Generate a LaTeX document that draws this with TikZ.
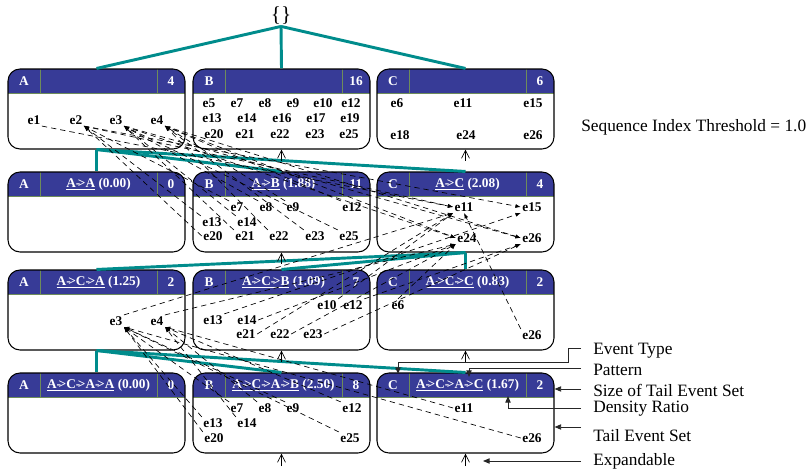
\documentclass[tikz,border=0pt]{standalone}
\usepackage{fontspec}
\setmainfont{Liberation Serif}
\usetikzlibrary{arrows.meta}
\definecolor{hdrblue}{RGB}{55,59,151}
\definecolor{treeteal}{RGB}{0,140,140}
\definecolor{divgreen}{RGB}{110,140,90}
\tikzset{
  boxframe/.style={draw, rounded corners=9pt, minimum width=132.75pt, minimum height=60pt, inner sep=0pt, line width=0.8pt},
  hdrtext/.style={text=white, font=\fontsize{10}{12}\selectfont\bfseries, inner sep=0pt},
  ev/.style={font=\fontsize{10}{12}\selectfont\bfseries, inner sep=1pt},
  tree/.style={treeteal, line width=2.2pt},
  dep/.style={dash pattern=on 4pt off 3pt, line width=0.5pt, -{Latex[length=4pt,width=3pt]}},
  leg/.style={line width=0.7pt, draw=black!85, -{Triangle[length=5pt,width=4pt]}},
  expand/.style={line width=0.5pt, -{Straight Barb[length=6pt,width=6pt]}},
  legtext/.style={font=\fontsize{13}{15}\selectfont, anchor=west, inner sep=0pt},
  divline/.style={divgreen, line width=0.6pt}
}
\newcommand\pbox[6]{%
  \begin{scope}
    \clip[rounded corners=9pt] (#2,#3) rectangle ++(177,80);
    \fill[white] (#2,#3) rectangle ++(177,80);
    \fill[hdrblue] (#2,#3) rectangle ++(177,24);
  \end{scope}
  \draw[divline] (#2,#3+24) -- ++(177,0);
  \draw[divline] (#2+32,#3) -- ++(0,24);
  \draw[divline] (#2+149,#3) -- ++(0,24);
  \node[boxframe] (#1) at (#2+88.5,#3+40) {};
  \node[hdrtext] (#1-t) at (#2+16,#3+12) {#4};
  \node[hdrtext] (#1-p) at (#2+90.5,#3+12) {#5};
  \node[hdrtext] (#1-n) at (#2+163,#3+12) {#6};
}
\newcommand\pat[2]{\underline{#1} (#2)}
\newcommand\ar{{-}\kern-0.18em{>}}
\begin{document}
\begin{tikzpicture}[x=0.75pt,y=-0.75pt]
\useasboundingbox (0,0) rectangle (806,473);

% root
\node[font=\fontsize{16}{18}\selectfont, inner sep=1pt] (root) at (281,16) {\{\}};

% boxes
\pbox{r1a}{8}{69}{A}{}{4}
\pbox{r1b}{193}{69}{B}{}{16}
\pbox{r1c}{377}{69}{C}{}{6}
\pbox{r2a}{8}{172}{A}{\pat{A\ar A}{0.00}}{0}
\pbox{r2b}{193}{172}{B}{\pat{A\ar B}{1.88}}{11}
\pbox{r2c}{377}{172}{C}{\pat{A\ar C}{2.08}}{4}
\pbox{r3a}{8}{270}{A}{\pat{A\ar C\ar A}{1.25}}{2}
\pbox{r3b}{193}{270}{B}{\pat{A\ar C\ar B}{1.09}}{7}
\pbox{r3c}{377}{270}{C}{\pat{A\ar C\ar C}{0.83}}{2}
\pbox{r4a}{8}{373}{A}{\pat{A\ar C\ar A\ar A}{0.00}}{0}
\pbox{r4b}{193}{373}{B}{\pat{A\ar C\ar A\ar B}{2.50}}{8}
\pbox{r4c}{377}{373}{C}{\pat{A\ar C\ar A\ar C}{1.67}}{2}

% events row 1
\node[ev] (r1a-e1) at (34,120) {e1};
\node[ev] (r1a-e2) at (76,120) {e2};
\node[ev] (r1a-e3) at (116,120) {e3};
\node[ev] (r1a-e4) at (157,120) {e4};
\node[ev] (r1b-e5) at (209,103) {e5};
\node[ev] (r1b-e7) at (237,103) {e7};
\node[ev] (r1b-e8) at (265,103) {e8};
\node[ev] (r1b-e9) at (293,103) {e9};
\node[ev] (r1b-e10) at (323,103) {e10};
\node[ev] (r1b-e12) at (351,103) {e12};
\node[ev] (r1b-e13) at (212,118) {e13};
\node[ev] (r1b-e14) at (247,118) {e14};
\node[ev] (r1b-e16) at (282,118) {e16};
\node[ev] (r1b-e17) at (316,118) {e17};
\node[ev] (r1b-e19) at (350,118) {e19};
\node[ev] (r1b-e20) at (214,134) {e20};
\node[ev] (r1b-e21) at (245,134) {e21};
\node[ev] (r1b-e22) at (280,134) {e22};
\node[ev] (r1b-e23) at (315,134) {e23};
\node[ev] (r1b-e25) at (349,134) {e25};
\node[ev] (r1c-e6) at (397,103) {e6};
\node[ev] (r1c-e11) at (463,103) {e11};
\node[ev] (r1c-e15) at (533,103) {e15};
\node[ev] (r1c-e18) at (400,135) {e18};
\node[ev] (r1c-e24) at (466,135) {e24};
\node[ev] (r1c-e26) at (533,135) {e26};

% events row 2
\node[ev] (r2b-e7) at (237,207) {e7};
\node[ev] (r2b-e8) at (266,207) {e8};
\node[ev] (r2b-e9) at (293,207) {e9};
\node[ev] (r2b-e12) at (352,207) {e12};
\node[ev] (r2b-e13) at (212,222) {e13};
\node[ev] (r2b-e14) at (247,222) {e14};
\node[ev] (r2b-e20) at (213,236) {e20};
\node[ev] (r2b-e21) at (245,236) {e21};
\node[ev] (r2b-e22) at (279,236) {e22};
\node[ev] (r2b-e23) at (315,236) {e23};
\node[ev] (r2b-e25) at (349,236) {e25};
\node[ev] (r2c-e11) at (464,207) {e11};
\node[ev] (r2c-e15) at (532,207) {e15};
\node[ev] (r2c-e24) at (467,238) {e24};
\node[ev] (r2c-e26) at (532,238) {e26};

% events row 3
\node[ev] (r3a-e3) at (116,321) {e3};
\node[ev] (r3a-e4) at (157,321) {e4};
\node[ev] (r3b-e10) at (327,305) {e10};
\node[ev] (r3b-e12) at (353,305) {e12};
\node[ev] (r3b-e13) at (213,320) {e13};
\node[ev] (r3b-e14) at (247,320) {e14};
\node[ev] (r3b-e21) at (246,334) {e21};
\node[ev] (r3b-e22) at (280,334) {e22};
\node[ev] (r3b-e23) at (313,334) {e23};
\node[ev] (r3c-e6) at (398,305) {e6};
\node[ev] (r3c-e26) at (532,335) {e26};

% events row 4
\node[ev] (r4b-e7) at (237,408) {e7};
\node[ev] (r4b-e8) at (265,408) {e8};
\node[ev] (r4b-e9) at (293,408) {e9};
\node[ev] (r4b-e12) at (352,408) {e12};
\node[ev] (r4b-e13) at (213,423) {e13};
\node[ev] (r4b-e14) at (247,423) {e14};
\node[ev] (r4b-e20) at (214,438) {e20};
\node[ev] (r4b-e25) at (350,438) {e25};
\node[ev] (r4c-e11) at (464,408) {e11};
\node[ev] (r4c-e26) at (532,438) {e26};

% tree (teal) connectors
\draw[tree] (root.south) -- (r1a.north);
\draw[tree] (root.south) -- (r1b.north);
\draw[tree] (root.south) -- (r1c.north);
\draw[tree] (r1a.south) -- (r2a.north);
\draw[tree] (r1a.south) -- (r2b.north);
\draw[tree] (r1a.south) -- (r2c.north);
\draw[tree] (r2c.south) -- (r3a.north);
\draw[tree] (r2c.south) -- (r3b.north);
\draw[tree] (r2c.south) -- (r3c.north);
\draw[tree] (r3a.south) -- (r4a.north);
\draw[tree] (r3a.south) -- (r4b.north);
\draw[tree] (r3a.south) -- (r4c.north);

% expandable marks
\coordinate (x1b) at (281.5,161); \draw[expand] (x1b) -- (r1b.south);
\coordinate (x1c) at (465.5,161); \draw[expand] (x1c) -- (r1c.south);
\coordinate (x2b) at (281.5,264); \draw[expand] (x2b) -- (r2b.south);
\coordinate (x3b) at (281.5,362); \draw[expand] (x3b) -- (r3b.south);
\coordinate (x3c) at (465.5,362); \draw[expand] (x3c) -- (r3c.south);
\coordinate (x4b) at (281.5,466); \draw[expand] (x4b) -- (r4b.south);
\coordinate (x4c) at (465.5,466); \draw[expand] (x4c) -- (r4c.south);

% dependency links: row 2 B -> row 1 A
\draw[dep] (r2b-e13.north west) -- (r1a-e2.south east);
\draw[dep] (r2b-e20.west) -- (r1a-e2.south east);
\draw[dep] (r2b-e7.north west) -- (r1a-e2.south east);
\draw[dep] (r2b-e14.north west) -- (r1a-e3.south east);
\draw[dep] (r2b-e21.north west) -- (r1a-e3.south east);
\draw[dep] (r2b-e8.north west) -- (r1a-e3.south east);
\draw[dep] (r2b-e25.north west) -- (r1a-e3.south east);
\draw[dep] (r2b-e22.north west) -- (r1a-e4.south east);
\draw[dep] (r2b-e9.north west) -- (r1a-e4.south east);
\draw[dep] (r2b-e23.north west) -- (r1a-e4.south east);
\draw[dep] (r2b-e12.north west) -- (r1a-e4.south east);
% row 1 A -> row 2 C
\draw[dep] (r1a-e1.south east) -- (r2c-e11.west);
\draw[dep] (r1a-e2.south east) -- (r2c-e11.west);
\draw[dep] (r1a-e2.south east) -- (r2c-e15.west);
\draw[dep] (r1a-e3.south east) -- (r2c-e24.west);
\draw[dep] (r1a-e4.south east) -- (r2c-e24.west);
\draw[dep] (r1a-e3.south east) -- (r2c-e26.west);
\draw[dep] (r1a-e4.south east) -- (r2c-e26.west);
% row 3 -> row 2 C
\draw[dep] (r3a-e3.north east) -- (r2c-e11.south west);
\draw[dep] (r3a-e4.north east) -- (r2c-e24.south west);
\draw[dep] (r3b-e13.north east) -- (r2c-e15.south west);
\draw[dep] (r3b-e14.east) -- (r2c-e24.south west);
\draw[dep] (r3b-e21.east) -- (r2c-e11.south west);
\draw[dep] (r3b-e22.east) -- (r2c-e24.south west);
\draw[dep] (r3b-e23.east) -- (r2c-e26.south west);
\draw[dep] (r3b-e10.north east) -- (r2c-e11.south west);
\draw[dep] (r3b-e12.north east) -- (r2c-e26.south west);
\draw[dep] (r3c-e6.north) -- (r2c-e24.south west);
\draw[dep] (r3c-e26.north west) -- (r2c-e11.south);
% row 4 -> row 3 A
\draw[dep] (r4b-e13.north west) -- (r3a-e3.south east);
\draw[dep] (r4b-e20.north west) -- (r3a-e3.south east);
\draw[dep] (r4b-e7.north west) -- (r3a-e3.south east);
\draw[dep] (r4b-e9.north west) -- (r3a-e3.south east);
\draw[dep] (r4b-e25.north west) -- (r3a-e3.south east);
\draw[dep] (r4b-e14.north west) -- (r3a-e4.south east);
\draw[dep] (r4b-e8.north west) -- (r3a-e4.south east);
\draw[dep] (r4b-e12.north west) -- (r3a-e4.south east);
\draw[dep] (r4c-e11.west) -- (r3a-e4.south east);
\draw[dep] (r4c-e26.west) -- (r3a-e3.south east);

% threshold
\node[legtext] (thr) at (581,127) {Sequence Index Threshold = 1.0};

% legend
\node[legtext] (lg1) at (593,351) {Event Type};
\node[legtext] (lg2) at (593,370) {Pattern};
\node[legtext] (lg3) at (593,390) {Size of Tail Event Set};
\node[legtext] (lg4) at (593,409) {Density Ratio};
\node[legtext] (lg5) at (593,436) {Tail Event Set};
\node[legtext] (lg6) at (593,461) {Expandable};
\draw[leg] (581,348) -- (568,348) -- (568,362) -- (398,362) -- (398,374);
\draw[leg] (581,368) -- (469,368) -- (469,377);
\draw[leg] (581,389) -- (r4c.east |- 0,389);
\draw[leg] (581,408) -- (508,408) -- (508,396);
\draw[leg] (581,427) -- (r4c.east |- 0,427);
\draw[leg] (581,461) -- (483,461);
\end{tikzpicture}
\end{document}
